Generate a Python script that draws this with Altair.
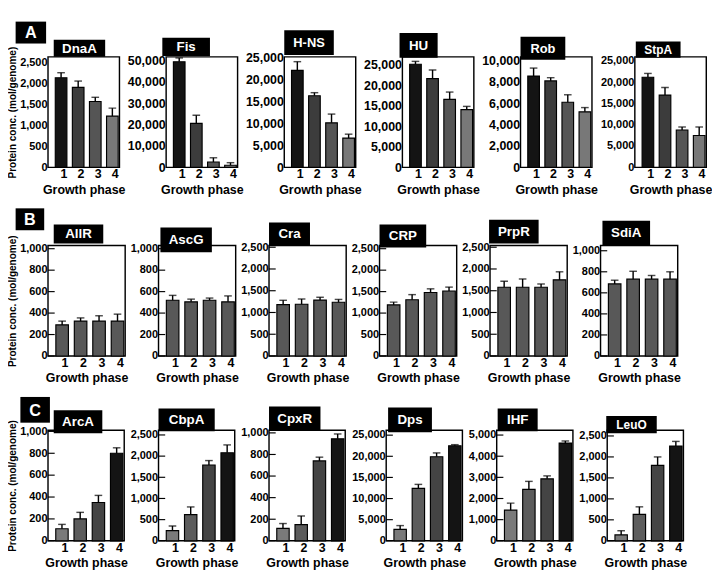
import altair as alt
import pandas as pd

FONT = "Liberation Sans"
phases = [1, 2, 3, 4]

# ---------------- Row A ----------------
a_names = ["DnaA", "Fis", "H-NS", "HU", "Rob", "StpA"]
a_values = [
    [2150, 1920, 1580, 1230],
    [49500, 20600, 2500, 1000],
    [22200, 16400, 10200, 6700],
    [25200, 21700, 16600, 14100],
    [8550, 8100, 6100, 5200],
    [21200, 17000, 8800, 7500],
]
a_errors = [
    [120, 150, 100, 190],
    [1800, 3800, 2000, 1200],
    [2000, 700, 2000, 900],
    [700, 2100, 1800, 800],
    [750, 300, 700, 400],
    [900, 1800, 700, 2000],
]
a_ymax = [2650, 51800, 25300, 27000, 10350, 26000]
a_tickmax = [2500, 50000, 25000, 25000, 10000, 25000]
a_tickstep = [500, 10000, 5000, 5000, 2000, 5000]
a_colors = ["#141414", "#3c3c3c", "#555555", "#787878"]

# ---------------- Row B ----------------
b_names = ["AllR", "AscG", "Cra", "CRP", "PrpR", "SdiA"]
b_values = [
    [290, 325, 325, 325],
    [520, 505, 520, 505],
    [1180, 1190, 1285, 1235],
    [1190, 1310, 1480, 1515],
    [1580, 1580, 1580, 1750],
    [685, 730, 730, 730],
]
b_errors = [
    [35, 30, 50, 65],
    [45, 25, 20, 55],
    [100, 120, 65, 65],
    [65, 120, 85, 90],
    [140, 190, 75, 185],
    [35, 75, 35, 70],
]
b_ymax = [1030, 1030, 2540, 2575, 2540, 1050]
b_tickmax = [1000, 1000, 2500, 2500, 2500, 1000]
b_tickstep = [200, 200, 500, 500, 500, 200]
b_colors = ["#585858", "#585858", "#585858", "#585858"]

# ---------------- Row C ----------------
c_names = ["ArcA", "CbpA", "CpxR", "Dps", "IHF", "LeuO"]
c_values = [
    [110, 200, 350, 800],
    [240, 620, 1790, 2080],
    [115, 150, 740, 945],
    [2700, 12400, 19900, 22500],
    [1450, 2430, 2930, 4620],
    [140, 630, 1800, 2260],
]
c_errors = [
    [40, 60, 65, 50],
    [110, 180, 105, 185],
    [45, 80, 35, 45],
    [900, 950, 900, 250],
    [330, 380, 140, 100],
    [100, 180, 200, 110],
]
c_ymax = [1010, 2610, 1024, 26150, 5225, 2635]
c_tickmax = [1000, 2500, 1000, 25000, 5000, 2500]
c_tickstep = [200, 500, 200, 5000, 1000, 500]
c_colors = ["#7a7a7a", "#5c5c5c", "#444444", "#141414"]

section_letters = ["A", "B", "C"]

# ---------------- layout (styling only) ----------------
H = 116
a_W, b_W, c_W = 75, 81, 80
a_tickfs = [11.5, 13, 13, 13, 13, 11.5]
b_tickfs = [11.5] * 6
c_tickfs = [11.5, 11.5, 11.5, 11.5, 11.5, 11.5]
a_boxes = [(6, 60, -18, 0), (-4, 46, -20, -1), (0, 52, -28, -2), (-3, 37, -25, 1), (0, 47, -21, 3), (1, 48, -16, 1)]
b_boxes = [(6, 58, -22, -2), (2, 56, -19, 7), (0, 43, -24, 0), (0, 49, -22, 2), (-1, 51, -27, -2), (2, 52, -26, 0)]
c_boxes = [(6, 57, -21, 3), (0, 59, -23, 1), (0, 54, -25, 0), (2, 48, -24, 2), (1, 43, -23, 1), (-1, 52, -15, 3)]
a_boxfs = [14, 14, 13.5, 14, 13.5, 12.5]
b_boxfs = [14] * 6
c_boxfs = [14, 14, 14, 14, 14, 12.5]
letter_boxes = [(-34, -2, -37, -14), (-34, -4, -39, -16), (-29, 2, -35, -8)]


def panel(name, vals, errs, colors, ymax, tmax, tstep, W, box, tick_fs, box_fs,
          first=False, letter=None, letter_box=None, inward=True):
    df = pd.DataFrame({
        "phase": phases,
        "value": vals,
        "top": [v + e for v, e in zip(vals, errs)],
        "color": colors,
    })
    ticks = list(range(0, tmax + 1, tstep))
    yscale = alt.Scale(domain=[0, ymax], nice=False, zero=True)
    yaxis = alt.Axis(values=ticks, format=",d", ticks=False, domain=False, grid=False,
                     labelPadding=1, labelFontSize=tick_fs, labelFontWeight="bold",
                     labelFont=FONT, labelColor="black",
                     titleFontSize=10.5, titleFontWeight="bold", titleFont=FONT,
                     titleColor="black", titlePadding=2)
    ytitle = "Protein conc. (mol/genome)" if first else None
    xenc = alt.X("phase:O",
                 scale=alt.Scale(paddingInner=0.32, paddingOuter=0.25, align=0.85),
                 axis=alt.Axis(title="Growth phase", labelAngle=0, ticks=False, domain=False,
                               labelPadding=1, labelOffset=3, labelFontSize=13,
                               labelFontWeight="bold", labelFont=FONT, labelColor="black",
                               titleFontSize=13, titleFontWeight="bold", titleFont=FONT,
                               titleColor="black", titlePadding=3))

    one = pd.DataFrame({"label": [name]})
    frame = alt.Chart(one).mark_rect(fillOpacity=0, stroke="black", strokeWidth=1.5).encode(
        x=alt.value(0), x2=alt.value(W), y=alt.value(0), y2=alt.value(H))
    base = alt.Chart(df)
    bars = base.mark_bar(stroke="black", strokeWidth=1.2).encode(
        x=xenc,
        y=alt.Y("value:Q", scale=yscale, axis=yaxis, title=ytitle),
        color=alt.Color("color:N", scale=None))
    err = base.mark_rule(color="black", strokeWidth=1.5).encode(
        x=xenc,
        y=alt.Y("value:Q", scale=yscale, axis=yaxis, title=ytitle),
        y2="top:Q")
    cap = base.mark_tick(color="black", orient="horizontal", size=8, thickness=1.5).encode(
        x=xenc,
        y=alt.Y("top:Q", scale=yscale, axis=yaxis, title=ytitle))
    layers = [frame, bars, err, cap]
    if inward:
        tdf = pd.DataFrame({"t": ticks})
        tk = alt.Chart(tdf).mark_rule(color="black", strokeWidth=1.2).encode(
            y=alt.Y("t:Q", scale=yscale, axis=yaxis, title=ytitle),
            x=alt.value(0), x2=alt.value(7))
        layers.append(tk)
    bx0, bx1, by0, by1 = box
    lb = alt.Chart(one).mark_rect(color="black").encode(
        x=alt.value(bx0), x2=alt.value(bx1), y=alt.value(by0), y2=alt.value(by1))
    lt = alt.Chart(one).mark_text(color="white", fontWeight="bold", fontSize=box_fs, font=FONT,
                                  align="center", baseline="middle").encode(
        x=alt.value((bx0 + bx1) / 2), y=alt.value((by0 + by1) / 2 + 0.5), text="label:N")
    layers += [lb, lt]
    if letter is not None:
        lx0, lx1, ly0, ly1 = letter_box
        ldf = pd.DataFrame({"letter": [letter]})
        sb = alt.Chart(ldf).mark_rect(color="black").encode(
            x=alt.value(lx0), x2=alt.value(lx1), y=alt.value(ly0), y2=alt.value(ly1))
        st = alt.Chart(ldf).mark_text(color="white", fontWeight="bold", fontSize=17, font=FONT,
                                      align="center", baseline="middle").encode(
            x=alt.value((lx0 + lx1) / 2), y=alt.value((ly0 + ly1) / 2 + 1), text="letter:N")
        layers += [sb, st]
    return alt.layer(*layers).properties(width=W, height=H)


def row(names, values, errors, colors, ymaxs, tmaxs, tsteps, W, boxes, tickfs, boxfs,
        letter, letter_box, inward):
    panels = []
    for i in range(6):
        panels.append(panel(names[i], values[i], errors[i], colors, ymaxs[i], tmaxs[i],
                            tsteps[i], W, boxes[i], tickfs[i], boxfs[i],
                            first=(i == 0), letter=letter if i == 0 else None,
                            letter_box=letter_box, inward=inward))
    return alt.hconcat(*panels, spacing=2)


rowA = row(a_names, a_values, a_errors, a_colors, a_ymax, a_tickmax, a_tickstep, a_W,
           a_boxes, a_tickfs, a_boxfs, section_letters[0], letter_boxes[0], False)
rowB = row(b_names, b_values, b_errors, b_colors, b_ymax, b_tickmax, b_tickstep, b_W,
           b_boxes, b_tickfs, b_boxfs, section_letters[1], letter_boxes[1], True)
rowC = row(c_names, c_values, c_errors, c_colors, c_ymax, c_tickmax, c_tickstep, c_W,
           c_boxes, c_tickfs, c_boxfs, section_letters[2], letter_boxes[2], True)

chart = alt.vconcat(rowA, rowB, rowC, spacing=13).properties(
    padding=0, background="white"
).configure_view(stroke=None)

chart.save("out.html", embed_options={"renderer": "svg", "actions": False})
